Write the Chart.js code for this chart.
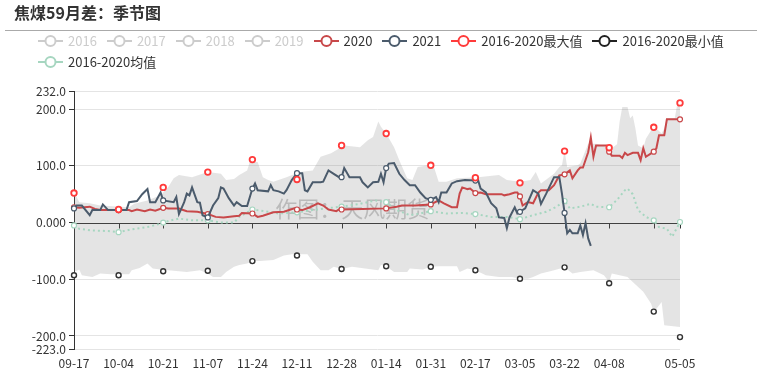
<!DOCTYPE html>
<html><head><meta charset="utf-8">
<script src="https://cdn.jsdelivr.net/npm/chart.js@4.4.1/dist/chart.umd.min.js"></script>
<style>
html,body{margin:0;padding:0;background:#fff;}
body{width:762px;height:378px;position:relative;overflow:hidden;font-family:"Noto Sans CJK SC","Noto Sans",sans-serif;}
#title{position:absolute;left:14px;top:1px;font-size:16px;font-weight:bold;color:#333;line-height:22px;white-space:nowrap;}
#rule{position:absolute;left:5px;top:30px;width:752px;height:1px;background:#aaa;}
#legend{position:absolute;left:38px;top:34px;width:700px;display:flex;flex-wrap:wrap;column-gap:10px;row-gap:7px;}
.item{display:flex;align-items:center;height:14px;font-size:13px;line-height:14px;white-space:nowrap;}
.item svg{margin-right:5px;display:block;}
#wrap{position:absolute;left:0;top:0;width:762px;height:378px;}
</style></head><body>
<div id="wrap"><canvas id="c" width="762" height="378"></canvas></div>
<div id="title">焦煤59月差：季节图</div>
<div id="rule"></div>
<div id="legend"></div>
<script>
// ---- categories (daily, 09-17 .. 05-05, incl. 02-29) ----
const monthSpans = [[9,17,30],[10,1,31],[11,1,30],[12,1,31],[1,1,31],[2,1,29],[3,1,31],[4,1,30],[5,1,5]];
const categories = [];
monthSpans.forEach(([m,a,b]) => { for (let d=a; d<=b; d++) categories.push(String(m).padStart(2,'0')+'-'+String(d).padStart(2,'0')); });

const tickLabels = ['09-17','10-04','10-21','11-07','11-24','12-11','12-28','01-14','01-31','02-17','03-05','03-22','04-08','04-25','05-05'];
const hiddenTickLabels = ['04-25'];
const yTickValues = [-223,-200,-100,0,100,200,232];

// ---- series values ----
const s2021 = [['09-17',25],['09-18',30],['09-20',30],['09-23',13],['09-24',22],['09-27',22],['09-28',32],['09-30',22],['10-04',22],['10-07',22],['10-08',36],['10-11',38],['10-13',50],['10-15',59],['10-16',36],['10-18',36],['10-20',53],['10-21',39],['10-25',36],['10-26',45],['10-27',15],['10-29',36],['10-30',51],['10-31',48],['11-01',62],['11-03',36],['11-04',35],['11-05',13],['11-07',9],['11-09',30],['11-11',43],['11-12',62],['11-13',60],['11-15',43],['11-17',30],['11-18',36],['11-20',29],['11-22',29],['11-24',60],['11-25',69],['11-26',57],['11-30',55],['12-01',66],['12-02',57],['12-04',55],['12-06',51],['12-07',57],['12-09',75],['12-11',87],['12-13',87],['12-14',57],['12-15',55],['12-17',71],['12-20',71],['12-21',72],['12-23',92],['12-25',86],['12-27',80],['12-28',80],['12-29',96],['12-31',80],['01-04',80],['01-05',71],['01-07',62],['01-09',71],['01-11',72],['01-12',86],['01-13',71],['01-14',96],['01-15',104],['01-17',105],['01-19',86],['01-21',75],['01-23',66],['01-25',66],['01-27',53],['01-29',43],['01-31',40],['02-02',45],['02-03',36],['02-04',53],['02-06',53],['02-08',69],['02-10',73],['02-13',75],['02-17',74],['02-18',75],['02-19',60],['02-21',53],['02-23',34],['02-25',25],['02-26',9],['02-28',8],['02-29',-10],['03-01',9],['03-03',27],['03-04',16],['03-05',19],['03-07',25],['03-10',57],['03-12',51],['03-13',33],['03-15',51],['03-18',80],['03-20',80],['03-21',51],['03-22',17],['03-23',-19],['03-24',-13],['03-25',-19],['03-27',-19],['03-28',-5],['03-29',-22],['03-30',-1],['03-31',-28],['04-01',-41]];

const s2020 = [['09-17',27],['09-19',26],['09-23',28],['09-25',24],['09-27',22],['10-04',22],['10-08',22],['10-09',20],['10-11',23],['10-14',20],['10-16',23],['10-18',21],['10-21',26],['10-23',25],['10-27',25],['10-28',23],['10-30',20],['11-03',19],['11-07',15],['11-10',10],['11-13',9],['11-17',11],['11-19',12],['11-20',17],['11-24',16],['11-26',10],['11-28',12],['11-30',15],['12-02',18],['12-06',19],['12-10',25],['12-11',23],['12-13',22],['12-16',27],['12-19',34],['12-21',30],['12-23',23],['12-26',20],['12-27',23],['12-28',23],['01-05',24],['01-14',25],['01-18',28],['01-20',30],['01-25',30],['01-31',32],['02-03',39],['02-05',34],['02-08',27],['02-10',27],['02-11',51],['02-12',62],['02-14',59],['02-15',60],['02-17',52],['02-19',53],['02-21',50],['02-27',50],['02-28',48],['03-01',50],['03-03',53],['03-04',53],['03-05',46],['03-06',30],['03-08',36],['03-10',34],['03-12',53],['03-13',57],['03-16',57],['03-18',66],['03-20',83],['03-22',85],['03-24',92],['03-25',78],['03-27',92],['03-28',97],['03-29',97],['03-31',124],['04-01',150],['04-02',116],['04-03',136],['04-07',136],['04-08',125],['04-09',118],['04-12',118],['04-13',114],['04-14',123],['04-15',119],['04-17',123],['04-19',123],['04-20',110],['04-21',131],['04-22',116],['04-24',122],['04-25',125],['04-26',131],['04-27',154],['04-29',154],['04-30',182],['05-05',182]];

const sMean = [['09-17',-5],['09-19',-11],['09-24',-14],['09-30',-15],['10-04',-17],['10-09',-12],['10-15',-8],['10-20',-2],['10-21',0],['10-24',4],['10-27',7],['11-01',4],['11-07',4],['11-12',0],['11-17',0],['11-19',10],['11-24',23],['11-30',19],['12-04',16],['12-11',18],['12-17',22],['12-22',25],['12-28',28],['01-04',33],['01-10',39],['01-14',36],['01-18',22],['01-23',13],['01-27',16],['01-31',20],['02-06',16],['02-12',17],['02-17',15],['02-23',10],['02-29',10],['03-05',6],['03-10',13],['03-15',19],['03-19',28],['03-22',38],['03-24',25],['03-28',28],['04-01',33],['04-03',28],['04-08',27],['04-11',40],['04-14',57],['04-15',60],['04-17',50],['04-19',22],['04-22',10],['04-25',4],['04-27',-8],['04-30',-11],['05-02',-25],['05-04',-8],['05-05',1]];

const sMax = [['09-17',52],['10-04',23],['10-21',62],['11-07',89],['11-24',111],['12-11',76],['12-28',136],['01-14',157],['01-31',101],['02-17',79],['03-05',70],['03-22',126],['04-08',132],['04-25',168],['05-05',211]];
const sMin = [['09-17',-93],['10-04',-93],['10-21',-86],['11-07',-85],['11-24',-68],['12-11',-58],['12-28',-82],['01-14',-77],['01-31',-78],['02-17',-84],['03-05',-99],['03-22',-79],['04-08',-107],['04-25',-157],['05-05',-202]];

const bandHigh = [['09-17',52],['09-18',45],['09-19',36],['09-23',34],['09-27',30],['10-08',27],['10-10',33],['10-15',39],['10-20',48],['10-23',63],['10-25',78],['10-27',84],['11-01',80],['11-07',89],['11-12',86],['11-14',75],['11-17',77],['11-19',84],['11-22',92],['11-23',107],['11-26',107],['11-28',80],['11-30',75],['12-02',72],['12-07',80],['12-12',89],['12-17',92],['12-20',116],['12-24',122],['12-29',136],['01-04',133],['01-07',145],['01-09',151],['01-11',178],['01-12',169],['01-14',157],['01-17',133],['01-19',110],['01-22',78],['01-24',75],['01-26',98],['01-30',101],['02-01',101],['02-03',72],['02-06',72],['02-10',78],['02-18',80],['02-26',84],['02-29',75],['03-05',72],['03-09',75],['03-11',89],['03-13',69],['03-18',86],['03-20',98],['03-21',101],['03-22',127],['03-23',98],['03-27',101],['03-28',104],['03-31',139],['04-03',139],['04-09',131],['04-11',138],['04-12',178],['04-13',204],['04-15',204],['04-16',184],['04-17',189],['04-18',166],['04-19',136],['04-21',131],['04-22',148],['04-24',163],['04-26',166],['04-28',157],['04-29',166],['04-30',184],['05-03',184],['05-04',210],['05-05',212]];

const bandLow = [['09-17',-87],['09-19',-83],['09-20',-93],['09-24',-96],['09-27',-90],['10-01',-91],['10-08',-91],['10-09',-84],['10-12',-80],['10-15',-72],['10-17',-81],['10-20',-83],['10-25',-85],['10-30',-87],['11-04',-84],['11-07',-90],['11-09',-96],['11-12',-96],['11-14',-87],['11-17',-78],['11-19',-75],['11-22',-72],['11-24',-68],['11-27',-68],['12-02',-66],['12-06',-58],['12-09',-56],['12-15',-56],['12-17',-69],['12-20',-84],['12-23',-84],['12-25',-78],['12-28',-82],['01-01',-78],['01-06',-81],['01-11',-84],['01-12',-75],['01-14',-77],['01-17',-87],['01-22',-87],['01-23',-81],['01-28',-83],['01-31',-78],['02-03',-77],['02-10',-77],['02-11',-87],['02-14',-81],['02-17',-84],['02-21',-93],['02-26',-96],['03-02',-96],['03-05',-99],['03-08',-99],['03-10',-96],['03-13',-90],['03-18',-84],['03-22',-79],['03-25',-90],['03-28',-87],['04-02',-84],['04-06',-93],['04-08',-105],['04-09',-90],['04-15',-96],['04-17',-105],['04-21',-122],['04-24',-143],['04-25',-158],['04-28',-140],['04-29',-181],['05-05',-184]];

const legendItems = [
  ['2016','#cccccc',false],['2017','#cccccc',false],['2018','#cccccc',false],['2019','#cccccc',false],
  ['2020','#c8484a',true],['2021','#4b5b6c',true],['2016-2020最大值','#ff3b3b',true],
  ['2016-2020最小值','#222222',true],['2016-2020均值','#a6d6c0',true]
];

// ---- legend (HTML) ----
const lg = document.getElementById('legend');
legendItems.forEach(([label,color,active]) => {
  const d = document.createElement('div');
  d.className = 'item';
  d.innerHTML = '<svg width="25" height="14"><line x1="0" y1="7" x2="25" y2="7" stroke="'+color+'" stroke-width="2"/><circle cx="12.5" cy="7" r="5" fill="#fff" stroke="'+color+'" stroke-width="2"/></svg><span style="color:'+(active?'#333':'#cccccc')+'">'+label+'</span>';
  lg.appendChild(d);
});

// ---- chart ----
const toPts = arr => arr.map(([x,y]) => ({x, y}));
const dotSet = new Set(tickLabels);
const dotRadius = r => ctx => (ctx.raw && dotSet.has(ctx.raw.x)) ? r : 0;
const bandColor = 'rgba(120,120,120,0.2)';

const overlay = {
  id: 'overlay',
  beforeDatasetsDraw(chart) {
    const {ctx, chartArea: a, scales: {x, y}} = chart;
    const y0 = Math.round(y.getPixelForValue(0)) + 0.5;
    ctx.save();
    ctx.font = '22px "Noto Sans CJK SC"';
    ctx.fillStyle = 'rgba(140,140,140,0.45)';
    ctx.textAlign = 'center';
    ctx.textBaseline = 'middle';
    ctx.fillText('作图：天风期货', a.left + (a.right - a.left) * 0.459, y0 - 15);
    ctx.strokeStyle = '#333';
    ctx.lineWidth = 1;
    ctx.beginPath();
    ctx.moveTo(a.left, y0); ctx.lineTo(a.right, y0);
    tickLabels.forEach(t => {
      const px = Math.round(x.getPixelForValue(categories.indexOf(t))) + 0.5;
      ctx.moveTo(px, y0); ctx.lineTo(px, y0 + 5);
    });
    ctx.stroke();
    ctx.restore();
  }
};

new Chart(document.getElementById('c'), {
  type: 'line',
  data: {
    labels: categories,
    datasets: [
      {label:'2021', data: toPts(s2021), borderColor:'#4b5b6c', borderWidth:2, pointRadius: dotRadius(2.5), pointBackgroundColor:'#fff', pointBorderColor:'#4b5b6c', pointBorderWidth:1.2, order:1},
      {label:'2020', data: toPts(s2020), borderColor:'#c8484a', borderWidth:2, pointRadius: dotRadius(2.5), pointBackgroundColor:'#fff', pointBorderColor:'#c8484a', pointBorderWidth:1.2, order:2},
      {label:'2016-2020最大值', data: toPts(sMax), showLine:false, pointRadius:2.8, pointBackgroundColor:'#fff', pointBorderColor:'#ff3b3b', pointBorderWidth:1.8, order:0},
      {label:'2016-2020最小值', data: toPts(sMin), showLine:false, pointRadius:2.5, pointBackgroundColor:'#fff', pointBorderColor:'#333', pointBorderWidth:1.4, order:0},
      {label:'2016-2020均值', data: toPts(sMean), borderColor:'#a6d6c0', borderWidth:2, borderDash:[2,3], pointRadius: dotRadius(2.5), pointBackgroundColor:'#fff', pointBorderColor:'#a6d6c0', pointBorderWidth:1.2, order:3},
      {label:'range-high', data: toPts(bandHigh), borderWidth:0, pointRadius:0, fill:'origin', backgroundColor:bandColor, order:9},
      {label:'range-low', data: toPts(bandLow), borderWidth:0, pointRadius:0, fill:'origin', backgroundColor:bandColor, order:9}
    ]
  },
  options: {
    responsive: false,
    animation: false,
    devicePixelRatio: 1,
    layout: {padding: {top: 91, right: 82, left: 0, bottom: 0}},
    elements: {line: {tension: 0}},
    plugins: {legend: {display:false}, tooltip: {enabled:false}},
    events: [],
    scales: {
      x: {
        type: 'category',
        offset: false,
        grid: {display:false},
        border: {display:false},
        afterFit: s => { s.height = 29; },
        ticks: {
          autoSkip: false, maxRotation: 0, padding: -1, color: '#333',
          font: {size: 12, family: '"Noto Sans CJK SC"'},
          callback: (v, i) => { const l = categories[i]; return (dotSet.has(l) && !hiddenTickLabels.includes(l)) ? l : null; }
        }
      },
      y: {
        min: -223, max: 232,
        afterFit: s => { s.width = 74; },
        afterBuildTicks: s => { s.ticks = yTickValues.map(v => ({value: v})); },
        border: {display:true, color:'#333', width:1},
        grid: {
          color: c => (c.tick && c.tick.value === 0) ? 'rgba(0,0,0,0)' : '#e4e4e4',
          tickColor: '#333', tickLength: 5, drawTicks: true
        },
        ticks: {
          padding: 3, color: '#333',
          font: {size: 12, family: '"Noto Sans CJK SC"'},
          callback: v => v === 0 ? '0.000' : Number(v).toFixed(1)
        }
      }
    }
  },
  plugins: [overlay]
});
</script>
</body></html>
